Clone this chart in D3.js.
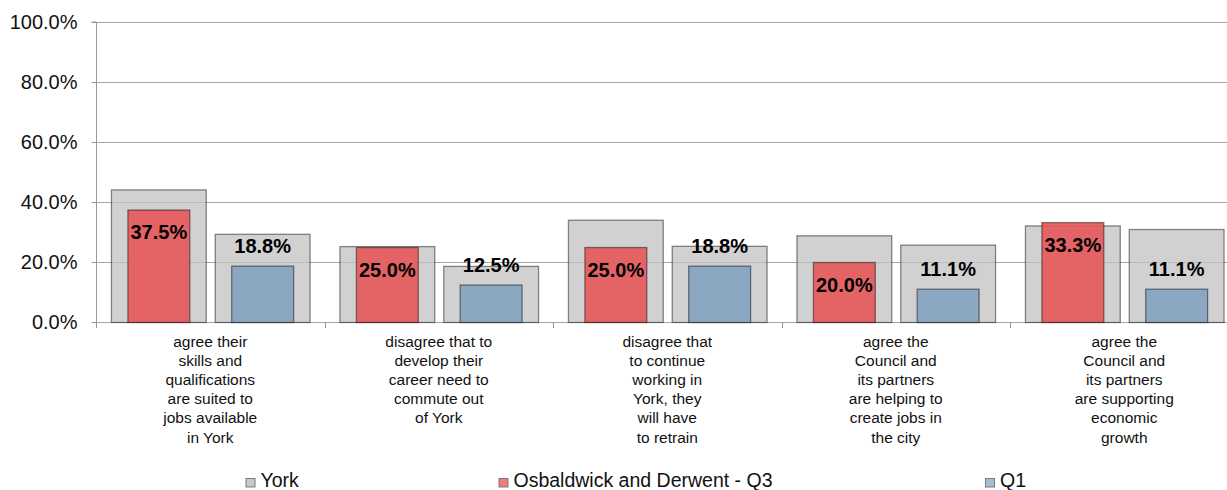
<!DOCTYPE html>
<html>
<head>
<meta charset="utf-8">
<script src="https://cdn.jsdelivr.net/npm/d3@7"></script>
<style>
  html, body { margin: 0; padding: 0; background: #fff; }
  svg { display: block; font-family: Arial, "Liberation Sans", sans-serif; }
</style>
</head>
<body>
<svg id="chart" width="1227" height="490"></svg>
<script>
const categories = [
  ["agree their", "skills and", "qualifications", "are suited to", "jobs available", "in York"],
  ["disagree that to", "develop their", "career need to", "commute out", "of York"],
  ["disagree that", "to continue", "working in", "York, they", "will have", "to retrain"],
  ["agree the", "Council and", "its partners", "are helping to", "create jobs in", "the city"],
  ["agree the", "Council and", "its partners", "are supporting", "economic", "growth"]
];
const groups = ["Q3", "Q1"];
const yorkQ3 = [44.2, 25.3, 34.1, 28.9, 32.2];
const yorkQ1 = [29.4, 18.7, 25.4, 25.8, 31.0];
const areaQ3 = [37.5, 25.0, 25.0, 20.0, 33.3];
const areaQ1 = [18.8, 12.5, 18.8, 11.1, 11.1];
const yTicks = [0, 20, 40, 60, 80, 100];
const legendLabels = ["York", "Osbaldwick and Derwent - Q3", "Q1"];

const svg = d3.select("#chart");
const pLeft = 96, pTop = 22, pBottom = 322, pRight = 1238.5;

const x = d3.scaleBand().domain(d3.range(categories.length)).range([pLeft, pRight]).padding(0);
const xi = d3.scaleBand().domain(groups).range([0, x.bandwidth()]).paddingInner(0.0865).paddingOuter(0.144);
const y = d3.scaleLinear().domain([0, 100]).range([pBottom, pTop]);

// gridlines
svg.append("g").selectAll("line").data(yTicks).join("line")
  .attr("x1", pLeft).attr("x2", 1227)
  .attr("y1", d => Math.round(y(d)) + 0.5).attr("y2", d => Math.round(y(d)) + 0.5)
  .attr("stroke", "#a6a6a6").attr("stroke-width", 1.2);

// y axis
const yAxis = d3.axisLeft(y).tickValues(yTicks).tickSize(5).tickPadding(14)
  .tickFormat(d => d.toFixed(1) + "%");
const gy = svg.append("g").attr("transform", `translate(${pLeft + 0.5},0)`).call(yAxis);
gy.select(".domain").attr("stroke", "#9a9a9a").attr("d", `M-5,${pTop}H0V${pBottom + 5}`);
gy.selectAll(".tick line").attr("stroke", "#9a9a9a");
gy.selectAll(".tick text").attr("font-size", 20).attr("fill", "#111").attr("font-family", "Arial, 'Liberation Sans', sans-serif");

// x axis ticks at category boundaries
const bounds = d3.range(categories.length + 1).map(i => pLeft + i * x.bandwidth());
svg.append("g").selectAll("line").data(bounds).join("line")
  .attr("x1", d => Math.round(d) + 0.5).attr("x2", d => Math.round(d) + 0.5)
  .attr("y1", pBottom).attr("y2", pBottom + 6)
  .attr("stroke", "#9a9a9a");

const yorkData = [];
const areaData = [];
categories.forEach((c, i) => {
  yorkData.push({ i, g: "Q3", v: yorkQ3[i] });
  yorkData.push({ i, g: "Q1", v: yorkQ1[i] });
  areaData.push({ i, g: "Q3", v: areaQ3[i] });
  areaData.push({ i, g: "Q1", v: areaQ1[i] });
});

// York background bars
svg.append("g").selectAll("rect").data(yorkData).join("rect")
  .attr("x", d => x(d.i) + xi(d.g) + 0.5)
  .attr("y", d => y(d.v) + 0.5)
  .attr("width", xi.bandwidth())
  .attr("height", d => y(0) - y(d.v))
  .attr("fill", "#c2c2c2").attr("fill-opacity", 0.75)
  .attr("stroke", "#000").attr("stroke-opacity", 0.45).attr("stroke-width", 1.3);

// area bars
const innerW = xi.bandwidth() * 0.653;
svg.append("g").selectAll("rect").data(areaData).join("rect")
  .attr("x", d => x(d.i) + xi(d.g) + (xi.bandwidth() - innerW) / 2 + 0.5)
  .attr("y", d => y(d.v) + 0.5)
  .attr("width", innerW)
  .attr("height", d => y(0) - y(d.v))
  .attr("fill", d => d.g === "Q3" ? "#e55a5c" : "#86a3bf")
  .attr("fill-opacity", 0.92)
  .attr("stroke", "#000").attr("stroke-opacity", 0.45).attr("stroke-width", 1.3);

// value labels
svg.append("g").selectAll("text").data(areaData).join("text")
  .attr("x", d => x(d.i) + xi(d.g) + xi.bandwidth() / 2 + 0.5)
  .attr("y", d => d.g === "Q3" ? y(d.v) + 29.5 : y(d.v) - 12.5)
  .attr("text-anchor", "middle")
  .attr("font-size", 20).attr("font-weight", "bold").attr("fill", "#000")
  .text(d => d.v.toFixed(1) + "%");

// category labels
const cl = svg.append("g").selectAll("text").data(categories).join("text")
  .attr("text-anchor", "middle")
  .attr("font-size", 15.5).attr("fill", "#111")
  .attr("transform", (d, i) => `translate(${x(i) + x.bandwidth() / 2},0)`);
cl.selectAll("tspan").data(d => d).join("tspan")
  .attr("x", 0)
  .attr("y", (d, j) => 347 + j * 19.1)
  .text(d => d);

// legend
const legendX = [245.5, 498.5, 985];
const legendFill = ["#c8c8c8", "#f07a7d", "#a6bcd6"];
const lg = svg.append("g").selectAll("g").data(legendLabels).join("g")
  .attr("transform", (d, i) => `translate(${legendX[i]},0)`);
lg.append("rect").attr("x", 0.5).attr("y", 478.5).attr("width", 9).attr("height", 8.5)
  .attr("fill", (d, i) => legendFill[i]).attr("stroke", "#7a7a7a").attr("stroke-width", 1);
lg.append("text").attr("x", 15).attr("y", 486.5).attr("font-size", 19.5).attr("fill", "#111").text(d => d);
</script>
</body>
</html>
